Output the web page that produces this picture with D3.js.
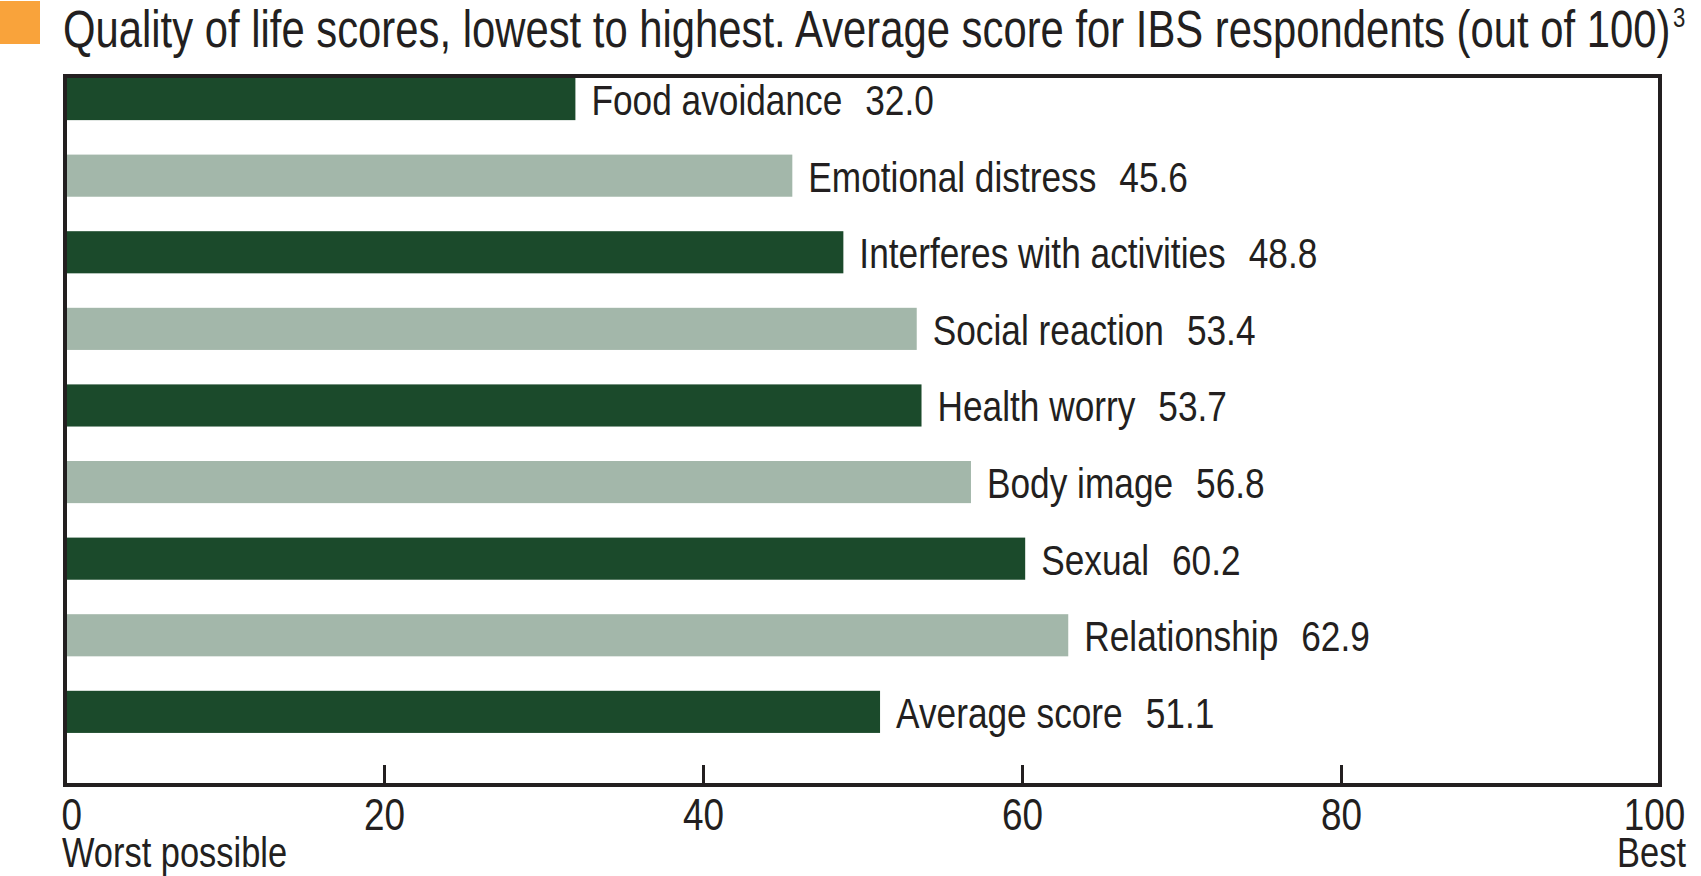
<!DOCTYPE html>
<html>
<head>
<meta charset="utf-8">
<script src="https://cdn.jsdelivr.net/npm/d3@7"></script>
<style>
  body { margin: 0; background: #fff; }
  svg text { font-family: "Liberation Sans", Arial, sans-serif; fill: #231f20; }
</style>
</head>
<body>
<svg id="chart" width="1701" height="876"></svg>
<script>
var categories = ["Food avoidance", "Emotional distress", "Interferes with activities", "Social reaction",
                  "Health worry", "Body image", "Sexual", "Relationship", "Average score"];
var scores = [32.0, 45.6, 48.8, 53.4, 53.7, 56.8, 60.2, 62.9, 51.1];
var tickValues = [0, 20, 40, 60, 80, 100];
var titleText = "Quality of life scores, lowest to highest. Average score for IBS respondents (out of 100)";
var footnote = "3";

var dark = "#1b4a2b", light = "#a3b7aa", ink = "#231f20";
var narrow = 0.82; // squeeze Liberation Sans into a condensed face

var svg = d3.select("#chart");

var plotLeft = 65, plotRight = 1660, plotTop = 76, plotBottom = 785;

var x = d3.scaleLinear().domain([0, 100]).range([plotLeft, plotRight]);
var y = d3.scaleBand()
    .domain(categories)
    .range([plotTop + 2, plotTop + 2 + 76.6 * (categories.length - 0.45)])
    .paddingInner(0.45)
    .paddingOuter(0);

function place(px, py) {
    return "translate(" + px + "," + py + ") scale(" + narrow + ",1)";
}

// title + orange marker
svg.append("rect")
    .attr("x", 0).attr("y", 1).attr("width", 40).attr("height", 43)
    .attr("fill", "#f9a33b");

var title = svg.append("text")
    .attr("transform", place(63, 47))
    .style("font-size", "51px");
title.append("tspan").text(titleText);
title.append("tspan").attr("dy", -20).attr("dx", 3).style("font-size", "27px").text(footnote);

// bars
svg.append("g").selectAll("rect")
    .data(categories)
    .enter().append("rect")
    .attr("x", x(0))
    .attr("y", function(d) { return y(d); })
    .attr("width", function(d, i) { return x(scores[i]) - x(0); })
    .attr("height", y.bandwidth())
    .attr("fill", function(d, i) { return i % 2 == 0 ? dark : light; });

var labels = svg.append("g").selectAll("text")
    .data(categories)
    .enter().append("text")
    .attr("transform", function(d, i) {
        return place(x(scores[i]) + 16, y(d) + y.bandwidth() / 2 + 16);
    })
    .style("font-size", "43px");
labels.append("tspan").text(function(d) { return d; });
labels.append("tspan").attr("dx", 28).text(function(d, i) { return scores[i].toFixed(1); });

// axis
var axis = d3.axisBottom(x)
    .tickValues(tickValues)
    .tickSize(0)
    .tickPadding(0)
    .tickFormat(d3.format("d"));

var gx = svg.append("g")
    .attr("transform", "translate(0," + plotBottom + ")")
    .call(axis);
gx.select(".domain").remove();
gx.selectAll("text")
    .attr("y", null).attr("dy", null)
    .attr("transform", function(d) {
        return "translate(" + (d == 0 ? -4 : d == 100 ? -6 : 0) + ",45) scale(" + narrow + ",1)";
    })
    .style("font-size", "45px")
    .style("fill", ink)
    .attr("text-anchor", function(d) { return d == 0 ? "start" : "middle"; });

gx.selectAll(".tick line")
    .filter(function(d) { return d > 0 && d < 100; })
    .attr("y1", 0).attr("y2", -20)
    .attr("stroke", ink).attr("stroke-width", 3);

// frame
svg.append("rect")
    .attr("x", plotLeft).attr("y", plotTop)
    .attr("width", plotRight - plotLeft).attr("height", plotBottom - plotTop)
    .attr("fill", "none")
    .attr("stroke", ink).attr("stroke-width", 4);

svg.append("text")
    .attr("transform", place(plotLeft - 3, 867))
    .style("font-size", "42px")
    .text("Worst possible");
svg.append("text")
    .attr("transform", place(1686, 867))
    .attr("text-anchor", "end")
    .style("font-size", "42px")
    .text("Best");
</script>
</body>
</html>
